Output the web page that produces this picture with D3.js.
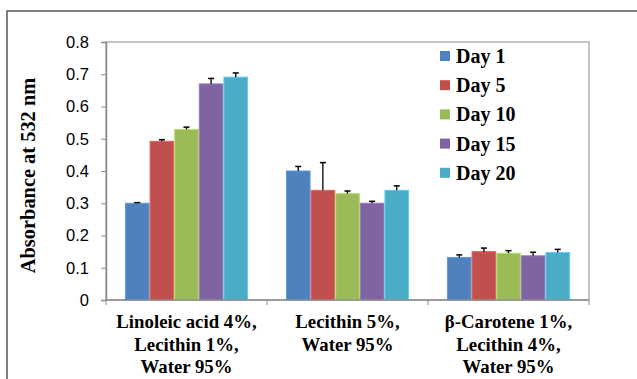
<!DOCTYPE html>
<html><head><meta charset="utf-8">
<script src="https://cdn.jsdelivr.net/npm/d3@7"></script>
<style>html,body{margin:0;padding:0;background:#fff;}</style>
</head><body>
<script>
const categories = [
  ["Linoleic acid 4%,", "Lecithin 1%,", "Water 95%"],
  ["Lecithin 5%,", "Water 95%"],
  ["β-Carotene 1%,", "Lecithin 4%,", "Water 95%"]
];
const seriesNames = ["Day 1", "Day 5", "Day 10", "Day 15", "Day 20"];
const colors = ["#4F81BD", "#C0504D", "#9BBB59", "#8064A2", "#4BACC6"];
const values = [
  [0.30, 0.40, 0.132],
  [0.492, 0.340, 0.150],
  [0.529, 0.330, 0.145],
  [0.670, 0.300, 0.137],
  [0.691, 0.340, 0.147]
];
const errors = [
  [0.002, 0.014, 0.008],
  [0.005, 0.086, 0.011],
  [0.007, 0.008, 0.008],
  [0.017, 0.006, 0.011],
  [0.013, 0.014, 0.010]
];
const yTicks = [0, 0.1, 0.2, 0.3, 0.4, 0.5, 0.6, 0.7, 0.8];
const yTitle = "Absorbance at 532 nm";

const W = 637, H = 379;
const svg = d3.select("body").append("svg").attr("width", W).attr("height", H);

// outer frame
svg.append("rect").attr("x", 7).attr("y", 11).attr("width", 700).attr("height", 500)
  .attr("fill", "none").attr("stroke", "#555").attr("stroke-width", 1.5);

const L = 106, R = 589, T = 42, B = 300;
const x0 = d3.scaleBand().domain(d3.range(categories.length)).range([L, R]).paddingInner(0).paddingOuter(0);
const x1 = d3.scaleBand().domain(d3.range(seriesNames.length)).range([0, x0.bandwidth()]).paddingOuter(0.77).paddingInner(0);
const y = d3.scaleLinear().domain([0, 0.8]).range([B, T]);

// plot area box
svg.append("rect").attr("x", L).attr("y", T).attr("width", R - L).attr("height", B - T)
  .attr("fill", "none").attr("stroke", "#8c8c8c").attr("stroke-width", 1);

// bars
const g = svg.append("g");
seriesNames.forEach((s, si) => {
  values[si].forEach((v, ci) => {
    const bx = x0(ci) + x1(si);
    const bw = x1.bandwidth();
    const c = d3.color(colors[si]);
    g.append("rect").attr("x", bx + 0.5).attr("y", y(v)).attr("width", bw - 1).attr("height", y(0) - y(v))
      .attr("fill", colors[si]).attr("stroke", c.brighter(0.5)).attr("stroke-width", 1);
  });
});

// error bars (plus only)
seriesNames.forEach((s, si) => {
  values[si].forEach((v, ci) => {
    const cx = x0(ci) + x1(si) + x1.bandwidth() / 2;
    const top = y(v + errors[si][ci]);
    g.append("line").attr("x1", cx).attr("x2", cx).attr("y1", y(v)).attr("y2", top)
      .attr("stroke", "#000").attr("stroke-width", 1.3);
    g.append("line").attr("x1", cx - 3).attr("x2", cx + 3).attr("y1", top).attr("y2", top)
      .attr("stroke", "#000").attr("stroke-width", 1.5);
  });
});

// y axis
const yAxis = d3.axisLeft(y).tickValues(yTicks).tickFormat(d => d === 0 ? "0" : d3.format(".1f")(d)).tickSize(5).tickPadding(12);
const ya = svg.append("g").attr("transform", `translate(${L},0)`).call(yAxis);
ya.select(".domain").attr("stroke", "#8c8c8c").attr("stroke-width", 1.5);
ya.selectAll(".tick line").attr("stroke", "#8c8c8c");
ya.selectAll("text").attr("font-family", "Liberation Sans, Arial, sans-serif").attr("font-size", 16.5).attr("fill", "#000");

// x axis
const xa = svg.append("g").attr("transform", `translate(0,${B})`);
xa.append("line").attr("x1", L).attr("x2", R).attr("y1", 0).attr("y2", 0).attr("stroke", "#8c8c8c").attr("stroke-width", 1.5);
const bounds = x0.domain().map(d => x0(d)).concat([R]);
xa.selectAll(".xt").data(bounds).enter().append("line")
  .attr("x1", d => d).attr("x2", d => d).attr("y1", 0).attr("y2", 5).attr("stroke", "#8c8c8c");

categories.forEach((lines, ci) => {
  const cx = x0(ci) + x0.bandwidth() / 2;
  const t = svg.append("text").attr("x", cx).attr("y", 328).attr("text-anchor", "middle")
    .attr("font-family", "Liberation Serif, Times New Roman, serif").attr("font-weight", "bold").attr("font-size", 18.8);
  lines.forEach((ln, li) => {
    t.append("tspan").attr("x", cx).attr("y", 328 + li * 22.5).text(ln);
  });
});

// y title
svg.append("text").attr("transform", `translate(35,175.5) rotate(-90)`).attr("text-anchor", "middle")
  .attr("font-family", "Liberation Serif, Times New Roman, serif").attr("font-weight", "bold").attr("font-size", 20.4)
  .text(yTitle);

// legend
const lg = svg.append("g");
seriesNames.forEach((s, i) => {
  const cy = 56 + i * 29.2;
  lg.append("rect").attr("x", 440).attr("y", cy - 5).attr("width", 10).attr("height", 10).attr("fill", colors[i]);
  lg.append("text").attr("x", 456).attr("y", cy + 7).attr("font-family", "Liberation Serif, Times New Roman, serif")
    .attr("font-weight", "bold").attr("font-size", 20).text(s);
});
</script>
</body></html>
